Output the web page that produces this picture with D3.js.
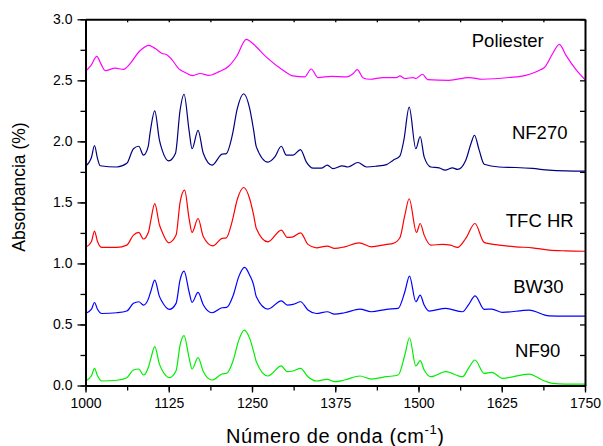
<!DOCTYPE html>
<html>
<head>
<meta charset="utf-8">
<script src="https://cdn.jsdelivr.net/npm/d3@7"></script>
<style>
  html, body { margin: 0; padding: 0; background: #fff; }
  svg { display: block; }
  text { font-family: "Liberation Sans", Arial, sans-serif; fill: #000; }
</style>
</head>
<body>
<svg id="chart" width="603" height="446"></svg>
<script>
// ---- data ----
const xTicks = [1000, 1125, 1250, 1375, 1500, 1625, 1750];
const yTicks = [0.0, 0.5, 1.0, 1.5, 2.0, 2.5, 3.0];

const seriesNames  = ["Poliester", "NF270", "TFC HR", "BW30", "NF90"];
const seriesColors = ["#ff00ff", "#000080", "#ff0000", "#0000ff", "#00ee00"];

const poliesterX = [1000,1008,1017,1023,1029.6,1044.6,1057,1067,1080,1094.7,1104.7,1115,1122,1129.7,1139.8,1149.8,1161,1172,1185,1200,1215,1227,1241.5,1246.5,1252.5,1271.6,1296.6,1311.6,1329,1339,1349,1369,1392,1402,1408,1417,1427,1447,1467,1472,1479.5,1492,1496,1506,1513.6,1546,1576,1596,1636,1661,1684,1689,1701.5,1711.5,1721.5,1736.5,1750];
const poliesterY = [2.574,2.62,2.697,2.637,2.58,2.60,2.59,2.637,2.732,2.787,2.76,2.72,2.71,2.67,2.596,2.564,2.539,2.556,2.541,2.569,2.615,2.697,2.836,2.822,2.795,2.69,2.583,2.536,2.528,2.593,2.523,2.533,2.528,2.556,2.588,2.519,2.509,2.523,2.523,2.536,2.515,2.523,2.515,2.55,2.506,2.50,2.523,2.509,2.523,2.541,2.588,2.605,2.72,2.795,2.705,2.588,2.506];

const nf270X = [1000,1009,1013.5,1018,1022,1047,1062,1072,1080,1087,1094,1097,1104,1111,1115,1125,1135,1142,1148,1155.5,1160,1169,1177,1190,1205,1211.5,1220,1228,1237.5,1246.5,1252.5,1256.5,1274,1284,1294,1301.6,1311.6,1322.7,1331.7,1341.7,1354,1363,1371.7,1385.7,1394,1409,1422,1437,1452,1462,1472,1478,1486,1496,1502.5,1508.5,1518.5,1531,1540,1551,1558.6,1571,1578.7,1584,1591,1598.6,1621,1646,1671,1696,1721,1750];
const nf270Y = [1.797,1.87,1.966,1.86,1.80,1.79,1.82,1.94,1.96,1.887,1.955,2.07,2.25,2.01,1.93,1.84,1.90,2.255,2.386,2.09,1.94,2.09,1.90,1.805,1.895,1.90,2.04,2.27,2.39,2.27,2.09,1.955,1.83,1.87,1.96,1.887,1.887,1.933,1.83,1.78,1.78,1.805,1.777,1.80,1.79,1.827,1.79,1.797,1.81,1.846,1.88,2.01,2.28,1.94,2.04,1.873,1.79,1.783,1.764,1.783,1.77,1.846,1.98,2.05,1.93,1.813,1.79,1.786,1.778,1.764,1.758,1.756];

const tfcX = [1000,1009,1013.5,1018,1024.5,1047,1062,1072,1080,1087,1094.7,1098,1104,1111,1115,1125,1136,1142,1148.8,1155.5,1160,1169,1177,1191,1205,1211.5,1220,1228,1237.5,1246.5,1252.5,1256.5,1274,1294,1303,1311.6,1323,1334,1346.7,1363,1374,1389,1411,1429,1452,1462,1472,1479.5,1486,1497,1502.5,1508.5,1518.5,1536,1548,1558.6,1571,1584.7,1598.6,1621,1646,1671,1696,1721,1750];
const tfcY = [1.131,1.18,1.265,1.18,1.131,1.131,1.15,1.232,1.254,1.20,1.259,1.35,1.49,1.317,1.259,1.169,1.232,1.50,1.60,1.37,1.254,1.368,1.218,1.144,1.205,1.21,1.34,1.526,1.622,1.53,1.395,1.287,1.177,1.273,1.213,1.218,1.251,1.156,1.128,1.142,1.123,1.136,1.169,1.136,1.156,1.164,1.21,1.395,1.53,1.254,1.327,1.232,1.15,1.156,1.15,1.131,1.205,1.327,1.172,1.15,1.136,1.128,1.109,1.103,1.10];

const bw30X = [1000,1009,1013.5,1018,1024.5,1047,1062,1072,1080,1087,1094.7,1098,1104,1111,1115,1126,1136,1142,1148,1155.5,1160,1169,1177,1190,1205,1212,1222,1230,1239,1246.5,1252.5,1256.5,1274,1294,1303,1311.6,1323,1334,1346.7,1363,1374,1389,1412,1429,1452,1469.5,1479.5,1486.5,1496,1502.5,1508.5,1516,1541,1566,1575,1585,1598.6,1610,1626,1666,1696,1721,1750];
const bw30Y = [0.59,0.625,0.68,0.625,0.59,0.596,0.61,0.673,0.686,0.659,0.714,0.77,0.864,0.73,0.686,0.624,0.673,0.866,0.937,0.768,0.681,0.763,0.659,0.596,0.637,0.64,0.741,0.89,0.967,0.904,0.823,0.727,0.626,0.694,0.659,0.664,0.686,0.618,0.59,0.604,0.585,0.596,0.626,0.604,0.624,0.632,0.768,0.896,0.686,0.741,0.659,0.61,0.632,0.604,0.66,0.735,0.624,0.626,0.599,0.618,0.571,0.569,0.569];

const nf90X = [1000,1009,1013.5,1018,1024.5,1047,1062,1072,1080,1087,1094.7,1098,1104,1111,1115,1126,1136,1142,1148,1155.5,1160,1169,1177,1190,1205,1212,1222,1230,1238.5,1246.5,1252.5,1256.5,1274,1294,1303,1311.6,1323,1334,1346.7,1363,1374,1389,1412,1429,1452,1469.5,1479.5,1486.5,1496,1502.5,1508.5,1518.5,1541,1566,1575,1584.7,1598.6,1610,1626,1666,1686,1701,1721,1750];
const nf90Y = [0.037,0.08,0.141,0.08,0.037,0.043,0.064,0.127,0.135,0.086,0.154,0.218,0.318,0.175,0.127,0.064,0.121,0.33,0.408,0.228,0.135,0.228,0.113,0.045,0.094,0.10,0.209,0.37,0.454,0.386,0.277,0.195,0.078,0.16,0.113,0.119,0.141,0.072,0.037,0.051,0.031,0.045,0.078,0.053,0.072,0.086,0.25,0.391,0.16,0.203,0.127,0.072,0.113,0.072,0.14,0.209,0.10,0.108,0.059,0.094,0.045,0.018,0.012,0.012];

const seriesX = [poliesterX, nf270X, tfcX, bw30X, nf90X];
const seriesY = [poliesterY, nf270Y, tfcY, bw30Y, nf90Y];
// label anchor positions in data units (x center, y baseline)
const labelX = [1634, 1682, 1682, 1680, 1679];
const labelY = [2.77, 2.02, 1.30, 0.76, 0.23];

// ---- layout ----
const svg = d3.select("#chart");
const x = d3.scaleLinear().domain([1000, 1750]).range([85.5, 585]);
const y = d3.scaleLinear().domain([0, 3]).range([385.5, 19.3]);

const xMinor = d3.range(1000, 1750.1, 62.5);
const yMinor = d3.range(0, 3.001, 0.25);

// lines
const line = d3.line().x(d => x(d[0])).y(d => y(d[1])).curve(d3.curveMonotoneX);
seriesNames.forEach((name, i) => {
  const pts = seriesX[i].map((v, j) => [v, seriesY[i][j]]);
  svg.append("path")
    .attr("d", line(pts))
    .attr("fill", "none")
    .attr("stroke", seriesColors[i])
    .attr("stroke-width", 1.2);
});

// axes
function styleAxis(g, w) {
  g.select(".domain").attr("stroke", "#000").attr("stroke-width", w);
  g.selectAll(".tick line").attr("stroke", "#000").attr("stroke-width", 1.3);
  g.selectAll("text").attr("font-size", 14).attr("font-family", '"Liberation Sans", Arial, sans-serif');
}

// bottom minor
svg.append("g").attr("transform", `translate(0,${y(0)})`)
  .call(d3.axisBottom(x).tickValues(xMinor).tickSize(5).tickSizeOuter(0).tickFormat(""))
  .call(g => styleAxis(g, 2));
// bottom major
svg.append("g").attr("transform", `translate(0,${y(0)})`)
  .call(d3.axisBottom(x).tickValues(xTicks).tickSize(7).tickSizeOuter(0).tickPadding(6).tickFormat(d3.format("d")))
  .call(g => styleAxis(g, 2));
// left minor
svg.append("g").attr("transform", `translate(${x(1000)},0)`)
  .call(d3.axisLeft(y).tickValues(yMinor).tickSize(5).tickSizeOuter(0).tickFormat(""))
  .call(g => styleAxis(g, 2));
// left major
svg.append("g").attr("transform", `translate(${x(1000)},0)`)
  .call(d3.axisLeft(y).tickValues(yTicks).tickSize(8).tickSizeOuter(0).tickPadding(5).tickFormat(d3.format(".1f")))
  .call(g => styleAxis(g, 2));
// top (inward ticks)
svg.append("g").attr("transform", `translate(0,${y(3)})`)
  .call(d3.axisBottom(x).tickValues(xMinor).tickSize(3).tickSizeOuter(0).tickFormat(""))
  .call(g => styleAxis(g, 2));
// right (inward ticks)
svg.append("g").attr("transform", `translate(${x(1750)},0)`)
  .call(d3.axisLeft(y).tickValues(yMinor).tickSize(5).tickSizeOuter(0).tickFormat(""))
  .call(g => styleAxis(g, 2));

// series labels
seriesNames.forEach((name, i) => {
  svg.append("text")
    .attr("x", x(labelX[i]))
    .attr("y", y(labelY[i]))
    .attr("text-anchor", "middle")
    .attr("font-size", 18.5)
    .text(name);
});

// axis titles
const xt = svg.append("text")
  .attr("x", (x(1000) + x(1750)) / 2)
  .attr("y", 443)
  .attr("text-anchor", "middle")
  .attr("font-size", 20)
  .attr("letter-spacing", 0.6);
xt.append("tspan").text("Número de onda (cm");
xt.append("tspan").attr("font-size", 13).attr("dy", -9).text("-1");
xt.append("tspan").attr("dy", 9).text(")");

svg.append("text")
  .attr("transform", "translate(25,187) rotate(-90)")
  .attr("text-anchor", "middle")
  .attr("font-size", 17.5)
  .text("Absorbancia (%)");
</script>
</body>
</html>
